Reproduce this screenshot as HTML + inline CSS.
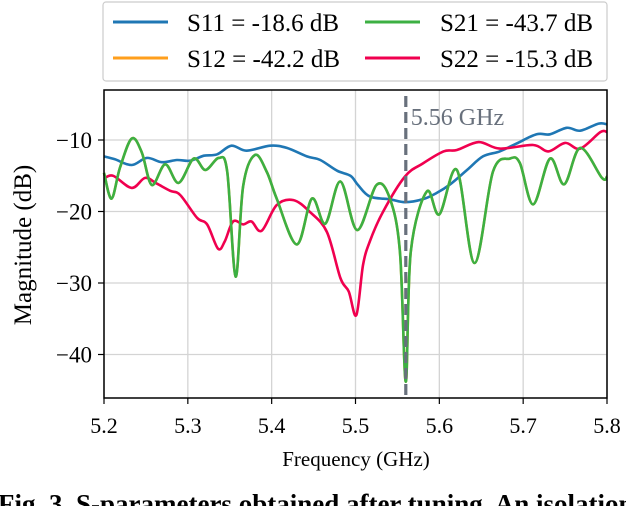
<!DOCTYPE html>
<html><head><meta charset="utf-8"><style>
html,body{margin:0;padding:0;background:#fff;overflow:hidden}
svg{display:block;font-family:"Liberation Serif",serif}
</style></head><body>
<svg id="chart" width="626" height="506" viewBox="0 0 626 506">
<g id="grid"></g>
<g id="series"></g>
<g id="axes"></g>
<text x="356" y="466" text-anchor="middle" font-size="21">Frequency (GHz)</text>
<text transform="translate(31,245) rotate(-90)" text-anchor="middle" font-size="25">Magnitude (dB)</text>
<text x="-2" y="513" font-size="27" font-weight="bold">Fig. 3. S-parameters obtained after tuning. An isolation</text>
<g>
<rect x="103" y="2" width="504" height="79" rx="3" fill="#fff" stroke="#ccc" stroke-width="1.2"/>
<g><line x1="113" y1="22" x2="168" y2="22" stroke="#1f77b4" stroke-width="3"/><text x="187" y="31" font-size="25">S11 = -18.6 dB</text></g>
<g><line x1="113" y1="58" x2="168" y2="58" stroke="#ff9f1c" stroke-width="3"/><text x="187" y="67" font-size="25">S12 = -42.2 dB</text></g>
<g><line x1="365" y1="22" x2="420" y2="22" stroke="#3cb043" stroke-width="3"/><text x="440" y="31" font-size="25">S21 = -43.7 dB</text></g>
<g><line x1="365" y1="58" x2="420" y2="58" stroke="#f0004f" stroke-width="3"/><text x="440" y="67" font-size="25">S22 = -15.3 dB</text></g>
</g>
</svg>
<script>
const xTicks=[5.2,5.3,5.4,5.5,5.6,5.7,5.8];
const xTickLabels=["5.2","5.3","5.4","5.5","5.6","5.7","5.8"];
const yTicks=[-10,-20,-30,-40];
const yTickLabels=["\u221210","\u221220","\u221230","\u221240"];
const markerFreq=5.56;
const markerLabel="5.56 GHz";
const s11F=[5.2,5.213,5.233,5.251,5.269,5.287,5.303,5.319,5.335,5.352,5.37,5.398,5.418,5.442,5.458,5.478,5.494,5.503,5.517,5.541,5.559,5.58,5.597,5.613,5.633,5.652,5.672,5.692,5.716,5.732,5.752,5.768,5.79,5.8];
const s11V=[-12.3,-12.7,-13.5,-12.5,-13.1,-12.8,-12.9,-12.2,-12.0,-10.8,-11.5,-10.8,-11.1,-12.3,-12.8,-14.3,-15.0,-16.3,-17.9,-18.3,-18.7,-18.3,-17.4,-16.2,-14.2,-12.3,-11.6,-10.5,-9.2,-9.2,-8.3,-8.7,-7.7,-7.8];
const s22F=[5.2,5.211,5.233,5.249,5.263,5.279,5.291,5.311,5.323,5.336,5.344,5.354,5.366,5.376,5.388,5.406,5.426,5.446,5.466,5.482,5.492,5.501,5.509,5.517,5.533,5.559,5.58,5.605,5.621,5.647,5.672,5.712,5.73,5.75,5.768,5.792,5.8];
const s22V=[-15.4,-15.0,-16.7,-15.3,-16.1,-17.1,-17.7,-20.9,-21.8,-25.2,-24.2,-21.4,-21.8,-21.4,-22.7,-19.1,-18.4,-20.1,-22.9,-29.3,-31.2,-34.5,-27.5,-24.2,-20.0,-15.1,-13.3,-11.6,-11.4,-10.3,-11.2,-10.7,-11.6,-10.4,-11.2,-8.9,-8.9];
const s21F=[5.2,5.209,5.219,5.233,5.245,5.257,5.273,5.289,5.307,5.321,5.337,5.347,5.357,5.366,5.38,5.394,5.406,5.43,5.448,5.464,5.482,5.502,5.525,5.541,5.553,5.56,5.566,5.585,5.6,5.621,5.642,5.664,5.684,5.696,5.712,5.732,5.749,5.768,5.794,5.8];
const s21V=[-14.6,-18.2,-13.9,-9.8,-11.7,-16.3,-13.4,-16.0,-12.6,-14.2,-12.5,-14.4,-29.1,-16.4,-12.1,-14.4,-18.2,-24.6,-18.2,-21.7,-15.8,-22.6,-16.3,-18.2,-25.6,-43.8,-25.6,-17.2,-20.4,-14.2,-27.2,-14.4,-12.6,-13.2,-19.0,-12.6,-16.2,-11.1,-15.3,-15.1];
const s12V=s21V.map(v=>v);

const L=104,R=607,T=90,B=398;
const X=f=>L+(f-5.2)/0.6*(R-L);
const Y=v=>140+(-10-v)*7.15;
const NS="http://www.w3.org/2000/svg";
function mk(tag,parent,attrs){const e=document.createElementNS(NS,tag);for(const k in attrs)e.setAttribute(k,attrs[k]);parent.appendChild(e);return e;}
const grid=document.getElementById('grid'),axes=document.getElementById('axes'),ser=document.getElementById('series');
xTicks.forEach((t,i)=>{
  const g=mk('line',grid,{x1:X(t),x2:X(t),y1:T,y2:B,stroke:'#d4d4d4','stroke-width':1.3});
  
  
  const tk=mk('line',axes,{x1:X(t),x2:X(t),y1:B,y2:B+6,stroke:'#000','stroke-width':1.2});
  
  
  const tx=mk('text',axes,{x:X(t),y:433,'text-anchor':'middle','font-size':22});
  tx.textContent=xTickLabels[i];
  
  
});
yTicks.forEach((t,i)=>{
  const g=mk('line',grid,{x1:L,x2:R,y1:Y(t),y2:Y(t),stroke:'#d4d4d4','stroke-width':1.3});
  
  
  const tk=mk('line',axes,{x1:L-6,x2:L,y1:Y(t),y2:Y(t),stroke:'#000','stroke-width':1.2});
  
  
  const tx=mk('text',axes,{x:L-12,y:Y(t)+8,'text-anchor':'end','font-size':23});
  tx.textContent=yTickLabels[i];
  
  
});
const fr=mk('rect',axes,{x:L,y:T,width:R-L,height:B-T,fill:'none',stroke:'#000','stroke-width':1.5});


function line(F,V,color,name){
  const P=F.map((f,i)=>[X(f),Y(V[i])]);
  let d='M'+P[0][0].toFixed(1)+' '+P[0][1].toFixed(1);
  for(let i=0;i<P.length-1;i++){
    const p0=P[Math.max(0,i-1)],p1=P[i],p2=P[i+1],p3=P[Math.min(P.length-1,i+2)];
    const c1=[p1[0]+(p2[0]-p0[0])/6,p1[1]+(p2[1]-p0[1])/6];
    const c2=[p2[0]-(p3[0]-p1[0])/6,p2[1]-(p3[1]-p1[1])/6];
    d+=' C'+c1[0].toFixed(1)+' '+c1[1].toFixed(1)+' '+c2[0].toFixed(1)+' '+c2[1].toFixed(1)+' '+p2[0].toFixed(1)+' '+p2[1].toFixed(1);
  }
  const p=mk('path',ser,{d:d,fill:'none',stroke:color,'stroke-width':2.6,'stroke-linejoin':'round'});
  
  
}
line(s11F,s11V,'#1f77b4','s11-line');
line(s21F,s12V,'#ff9f1c','s12-line');
line(s22F,s22V,'#f0004f','s22-line');
line(s21F,s21V,'#3cb043','s21-line');
const mkr=mk('line',ser,{x1:X(markerFreq),x2:X(markerFreq),y1:96,y2:B,stroke:'#68707c','stroke-width':3.2,'stroke-dasharray':'11,5'});


const ml=mk('text',ser,{x:X(markerFreq)+5,y:125,'font-size':24,fill:'#68707c'});
ml.textContent=markerLabel;


</script>
</body></html>
